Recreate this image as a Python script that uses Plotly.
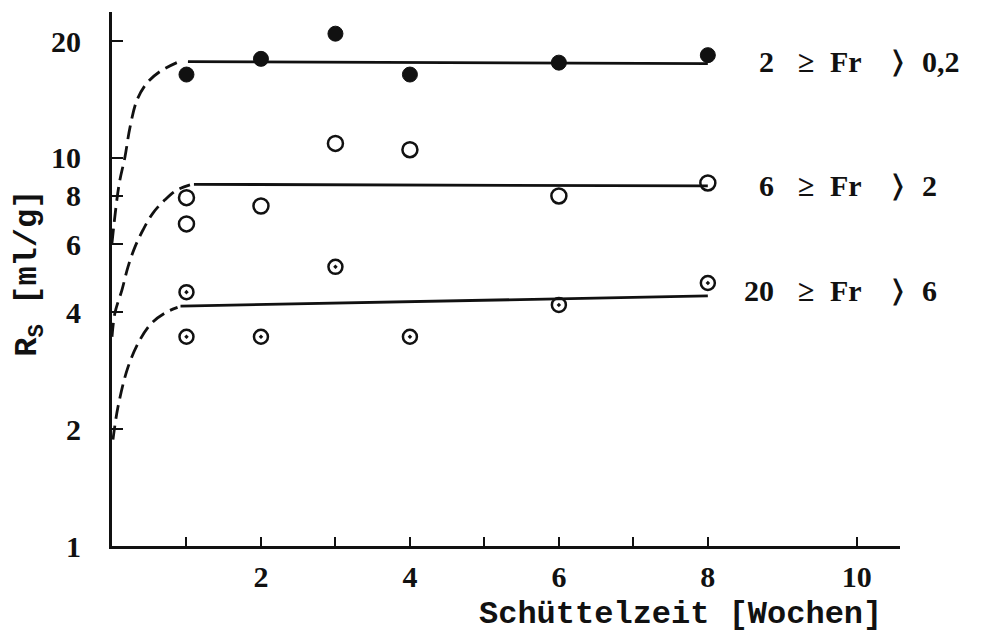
import math
import plotly.graph_objects as go

# Measured points: shaking time (weeks) vs. R_S (ml/g) for three fractions
weeks_a = [1, 2, 3, 4, 6, 8]
rs_a = [16.4, 18.0, 20.9, 16.4, 17.6, 18.4]          # 2 >= Fr > 0,2

weeks_b = [1, 1, 2, 3, 4, 6, 8]
rs_b = [7.9, 6.76, 7.52, 10.9, 10.5, 7.98, 8.62]    # 6 >= Fr > 2

weeks_c = [1, 1, 2, 3, 4, 6, 8]
rs_c = [4.51, 3.46, 3.46, 5.24, 3.46, 4.18, 4.76]   # 20 >= Fr > 6

# Fitted plateau lines (solid) and initial rise (dashed)
fit_a_x = [1.02, 8.0]
fit_a_y = [17.7, 17.5]
rise_a_x = [0.0, 0.094, 0.174, 0.242, 0.336, 0.47, 0.644, 0.87]
rise_a_y = [6.04, 8.52, 10.06, 12.0, 14.1, 15.6, 16.7, 17.6]

fit_b_x = [1.1, 8.0]
fit_b_y = [8.55, 8.47]
rise_b_x = [0.0, 0.04, 0.134, 0.215, 0.309, 0.416, 0.55, 0.711, 0.872, 1.047]
rise_b_y = [3.46, 3.99, 4.57, 5.24, 5.90, 6.52, 7.21, 7.80, 8.27, 8.52]

fit_c_x = [0.92, 8.0]
fit_c_y = [4.15, 4.41]
rise_c_x = [0.013, 0.08, 0.215, 0.376, 0.537, 0.738, 0.88]
rise_c_y = [1.88, 2.28, 2.89, 3.40, 3.76, 4.01, 4.12]

# Fraction labels, split into columns so the relation signs line up
frac_low = ["2", "6", "20"]
frac_high = ["0,2", "2", "6"]
frac_level = [17.7, 8.5, 4.55]

x_tickvals = [2, 4, 6, 8, 10]
x_ticktext = ["2", "4", "6", "8", "10"]
x_minor_ticks = [1, 3, 5, 7]
y_tickvals = [1, 2, 4, 6, 8, 10, 20]
y_ticktext = ["1", "2", "4", "6", "8", "10", "20"]

INK = "#111111"
NUM_FONT = dict(family="Liberation Serif", size=30, color=INK, weight="bold")
TITLE_FONT = dict(family="Liberation Mono", size=32, color=INK, weight="bold")

fig = go.Figure()

for rx, ry in [(rise_a_x, rise_a_y), (rise_b_x, rise_b_y), (rise_c_x, rise_c_y)]:
    fig.add_trace(go.Scatter(x=rx, y=ry, mode="lines",
                             line=dict(color=INK, width=2.8, dash="14px,7px", shape="spline"),
                             showlegend=False, hoverinfo="skip"))
for fx, fy in [(fit_a_x, fit_a_y), (fit_b_x, fit_b_y), (fit_c_x, fit_c_y)]:
    fig.add_trace(go.Scatter(x=fx, y=fy, mode="lines",
                             line=dict(color=INK, width=2.8),
                             showlegend=False, hoverinfo="skip"))

fig.add_trace(go.Scatter(x=weeks_a, y=rs_a, mode="markers",
                         marker=dict(symbol="circle", size=15, color=INK,
                                     line=dict(color=INK, width=1)),
                         showlegend=False))
fig.add_trace(go.Scatter(x=weeks_b, y=rs_b, mode="markers",
                         marker=dict(symbol="circle-open", size=15, color=INK,
                                     line=dict(color=INK, width=2.5)),
                         showlegend=False))
fig.add_trace(go.Scatter(x=weeks_c, y=rs_c, mode="markers",
                         marker=dict(symbol="circle-open-dot", size=14, color=INK,
                                     line=dict(color=INK, width=2.5)),
                         showlegend=False))


def px_to_paper(px):
    # plot area starts at 112 px and is 788 px wide
    return (px - 112) / 788.0


for lo, hi, lvl in zip(frac_low, frac_high, frac_level):
    yy = math.log10(lvl)
    parts = [
        (lo, px_to_paper(776), "right"),
        ("\u2265", px_to_paper(806), "center"),
        ("Fr", px_to_paper(828), "left"),
        ("\u232a", px_to_paper(898), "center"),
        (hi, px_to_paper(920), "left"),
    ]
    for txt, px, anchor in parts:
        fig.add_annotation(xref="paper", x=px, y=yy, text=txt, showarrow=False,
                           xanchor=anchor, yanchor="middle", font=NUM_FONT)

fig.add_annotation(xref="paper", yref="paper", x=px_to_paper(680), y=-0.128,
                   text="Schüttelzeit [Wochen]", showarrow=False,
                   xanchor="center", yanchor="middle", font=TITLE_FONT)
fig.add_annotation(xref="paper", yref="paper", x=px_to_paper(30), y=0.51,
                   text="R<sub>S</sub> [ml/g]", showarrow=False, textangle=-90,
                   xanchor="center", yanchor="middle", font=TITLE_FONT)

fig.update_xaxes(range=[0, 10.58], tickvals=x_tickvals, ticktext=x_ticktext,
                 ticks="inside", ticklen=9, tickwidth=2, tickcolor=INK,
                 minor=dict(tickvals=x_minor_ticks, ticks="inside", ticklen=9,
                            tickwidth=2, tickcolor=INK, showgrid=False),
                 showline=True, linewidth=2.8, linecolor=INK,
                 showgrid=False, zeroline=False, ticklabelstandoff=2,
                 tickfont=NUM_FONT)
fig.update_yaxes(type="log", range=[0, 1.376], tickvals=y_tickvals, ticktext=y_ticktext,
                 ticks="inside", ticklen=11, tickwidth=2, tickcolor=INK,
                 showline=True, linewidth=2.8, linecolor=INK,
                 showgrid=False, zeroline=False, ticklabelstandoff=22,
                 tickfont=NUM_FONT)

fig.update_layout(width=989, height=632,
                  margin=dict(l=112, r=89, t=12, b=86),
                  plot_bgcolor="white", paper_bgcolor="white",
                  font=dict(family="Liberation Serif", color=INK))

fig.write_html("out.html")
